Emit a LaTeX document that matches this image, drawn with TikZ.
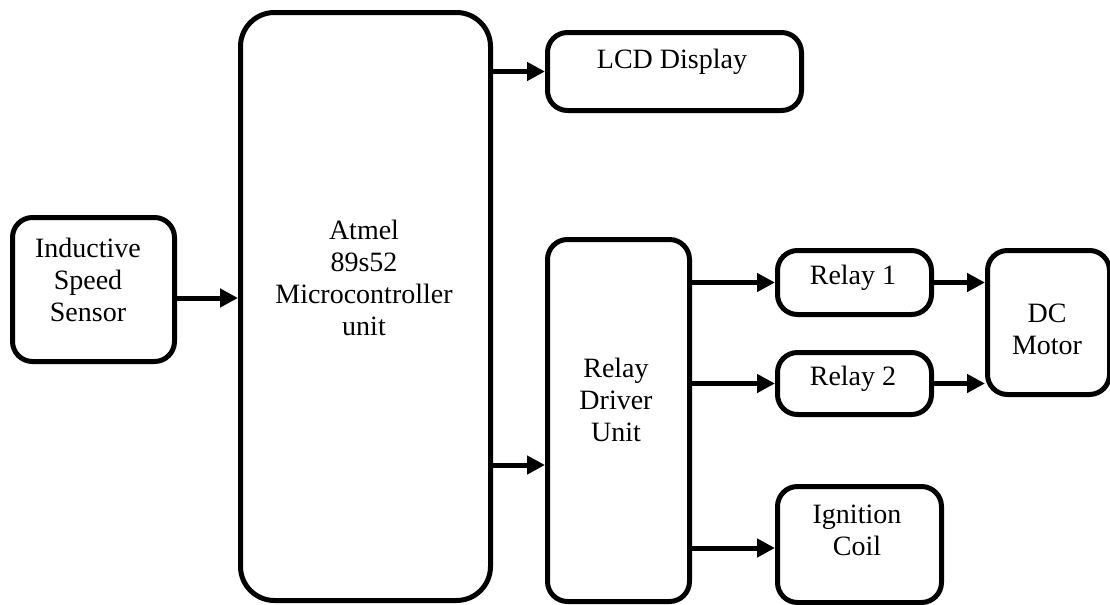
\documentclass[tikz,border=0pt]{standalone}
\usepackage{fontspec}
\setmainfont{Liberation Serif}
\usetikzlibrary{arrows.meta, positioning, calc}

\begin{document}
\begin{tikzpicture}[x=0.5pt, y=-0.5pt]
    \tikzstyle{block} = [rectangle, draw, line width=2.5pt, rounded corners=10pt,
                         inner sep=0pt, anchor=north west]
    \tikzstyle{txt} = [align=center, font=\fontsize{14}{16}\selectfont]
    \tikzstyle{flow} = [-{Triangle[length=9pt, width=9pt]}, line width=2.5pt]

    \useasboundingbox (0,0) rectangle (1110,605);

    % boxes
    \node (sensor) [block, minimum width=81pt, minimum height=72pt] at (10,215) {};
    \node (mcu)    [block, minimum width=125pt, minimum height=294pt, rounded corners=17pt] at (238,10) {};
    \node (lcd)    [block, minimum width=127pt, minimum height=39pt] at (545,30) {};
    \node (rdu)    [block, minimum width=71pt, minimum height=181pt] at (545,237) {};
    \node (relay1) [block, minimum width=77pt, minimum height=32pt] at (775,248) {};
    \node (relay2) [block, minimum width=77pt, minimum height=31pt] at (775,350) {};
    \node (motor)  [block, minimum width=61pt, minimum height=72pt] at (985,248) {};
    \node (coil)   [block, minimum width=82pt, minimum height=58pt] at (775,484) {};

    % labels
    \node (sensortxt) [txt] at (88,280) {Inductive\\Speed\\Sensor};
    \node (mcutxt)    [txt] at (364,278) {Atmel\\89s52\\Microcontroller\\unit};
    \node (lcdtxt)    [txt] at (672,62)  {LCD Display};
    \node (rdutxt)    [txt] at (616,400) {Relay\\Driver\\Unit};
    \node (relay1txt) [txt] at (853,278) {Relay 1};
    \node (relay2txt) [txt] at (853,379) {Relay 2};
    \node (motortxt)  [txt] at (1047,329) {DC\\Motor};
    \node (coiltxt)   [txt] at (857,530) {Ignition\\Coil};

    % connectors
    \draw [flow] (sensor.east |- 0,298) -- (mcu.west |- 0,298);
    \draw [flow] (mcu.east |- lcd.west) -- (lcd.west);
    \draw [flow] (mcu.east |- 0,465) -- (rdu.west |- 0,465);
    \draw [flow] (rdu.east |- relay1) -- (relay1.west);
    \draw [flow] (rdu.east |- relay2) -- (relay2.west);
    \draw [flow] (rdu.east |- 0,548) -- (coil.west |- 0,548);
    \draw [flow] (relay1.east) -- (motor.west |- relay1);
    \draw [flow] (relay2.east) -- (motor.west |- relay2);
\end{tikzpicture}
\end{document}
